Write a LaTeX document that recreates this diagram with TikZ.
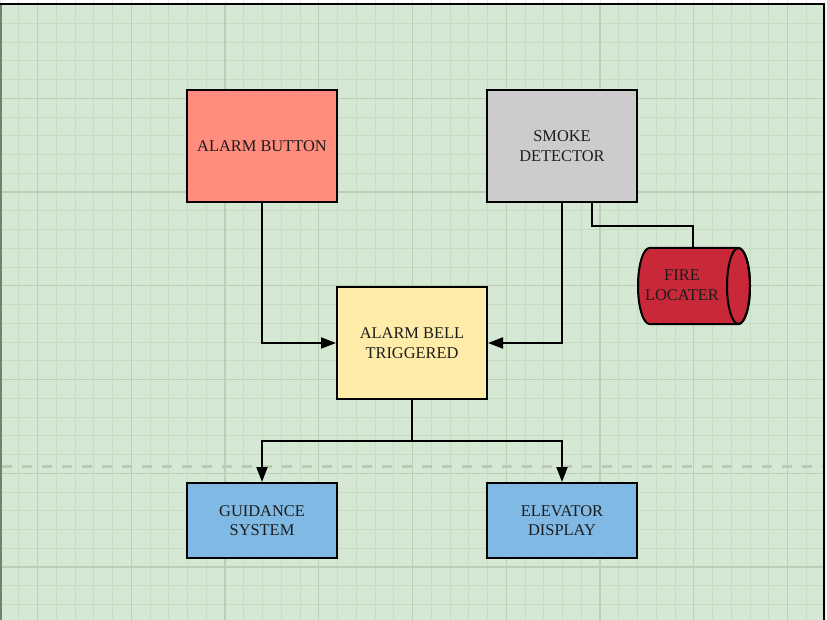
\documentclass[tikz,border=0pt]{standalone}
\usepackage{fontspec}
\setmainfont{Liberation Serif}
\usetikzlibrary{arrows.meta}
\definecolor{pagegreen}{RGB}{213,232,212}
\definecolor{gridminor}{RGB}{199,221,195}
\definecolor{gridmajor}{RGB}{186,207,181}
\definecolor{gridwhite}{RGB}{236,236,236}
\definecolor{dashcol}{RGB}{186,202,181}
\definecolor{leftedge}{RGB}{112,132,108}
\definecolor{salmon}{RGB}{255,140,125}
\definecolor{smokegray}{RGB}{204,204,204}
\definecolor{bellyellow}{RGB}{255,236,168}
\definecolor{skyblue}{RGB}{127,185,228}
\definecolor{firered}{RGB}{200,40,56}
\definecolor{txt}{RGB}{28,28,28}
\begin{document}
\begin{tikzpicture}[x=1pt,y=-1pt,
  labeltext/.style={text=txt, align=center, font=\fontsize{16.4}{19.5}\selectfont, inner sep=0pt},
  box/.style={labeltext, draw=black, line width=2pt, minimum width=150pt},
  conn/.style={draw=black, line width=2pt},
  arr/.style={-{Triangle[length=15pt,width=11pt]}},
  minorline/.style={gridminor, line width=0.8pt},
  majorline/.style={gridmajor, line width=1.3pt},
]
\useasboundingbox (0,0) rectangle (827,620);
\fill[white] (0,0) rectangle (827,620);
\foreach \i in {0,...,44} \draw[gridwhite, line width=0.8pt] (\i*18.75,0) -- (\i*18.75,620);
\fill[pagegreen] (0,4.5) rectangle (824.5,630);
\begin{scope}
  \clip (0,4.5) rectangle (824.5,630);
  \foreach \i in {0,...,44} \draw[minorline] (\i*18.75,0) -- (\i*18.75,630);
  \foreach \j in {0,...,33} \draw[minorline] (0,4.5+\j*18.75) -- (827,4.5+\j*18.75);
  \foreach \i in {0,...,8} \draw[majorline] (37.5+\i*93.75,0) -- (37.5+\i*93.75,630);
  \foreach \j in {0,...,6} \draw[majorline] (0,4.5+\j*93.75) -- (827,4.5+\j*93.75);
\end{scope}
% page break dashed line
\draw[dashcol, line width=3pt, dash pattern=on 10pt off 10pt] (1.7,466) -- (824,466);
% page border
\draw[leftedge, line width=1.5pt] (0.75,4.5) -- (0.75,630);
\draw[black, line width=2pt] (0,4.5) -- (824,4.5) -- (824,630);

% nodes
\node[box, fill=salmon, minimum height=112pt] (ab) at (262,146) {ALARM BUTTON};
\node[box, fill=smokegray, minimum height=112pt] (sd) at (562,146) {SMOKE\\DETECTOR};
\node[box, fill=bellyellow, minimum height=112pt] (bell) at (412,343) {ALARM BELL\\TRIGGERED};
\node[box, fill=skyblue, minimum height=75pt] (gs) at (262,520.5) {GUIDANCE\\SYSTEM};
\node[box, fill=skyblue, minimum height=75pt] (es) at (562,520.5) {ELEVATOR\\DISPLAY};

% cylinder (fire locater)
\draw[fill=firered, line width=2pt] (649.5,248) -- (738.5,248)
  arc[start angle=90, end angle=-90, x radius=11.5pt, y radius=38pt]
  -- (649.5,324)
  arc[start angle=270, end angle=90, x radius=11.5pt, y radius=38pt] -- cycle;
\draw[line width=2pt] (738.5,286) ellipse [x radius=11.5pt, y radius=38pt];
\node[labeltext] (fl) at (682,285) {FIRE\\LOCATER};
\coordinate (fltop) at (693,248);

% connectors
\draw[conn, arr] (ab.south) |- (bell.west);
\draw[conn, arr] (sd.south) |- (bell.east);
\draw[conn] ([xshift=30pt]sd.south) -- ++(0,23) -| (fltop);
\coordinate (split) at (412,441);
\draw[conn] (bell.south) -- (split);
\draw[conn, arr] (split) -| (gs.north);
\draw[conn, arr] (split) -| (es.north);
\end{tikzpicture}
\end{document}
